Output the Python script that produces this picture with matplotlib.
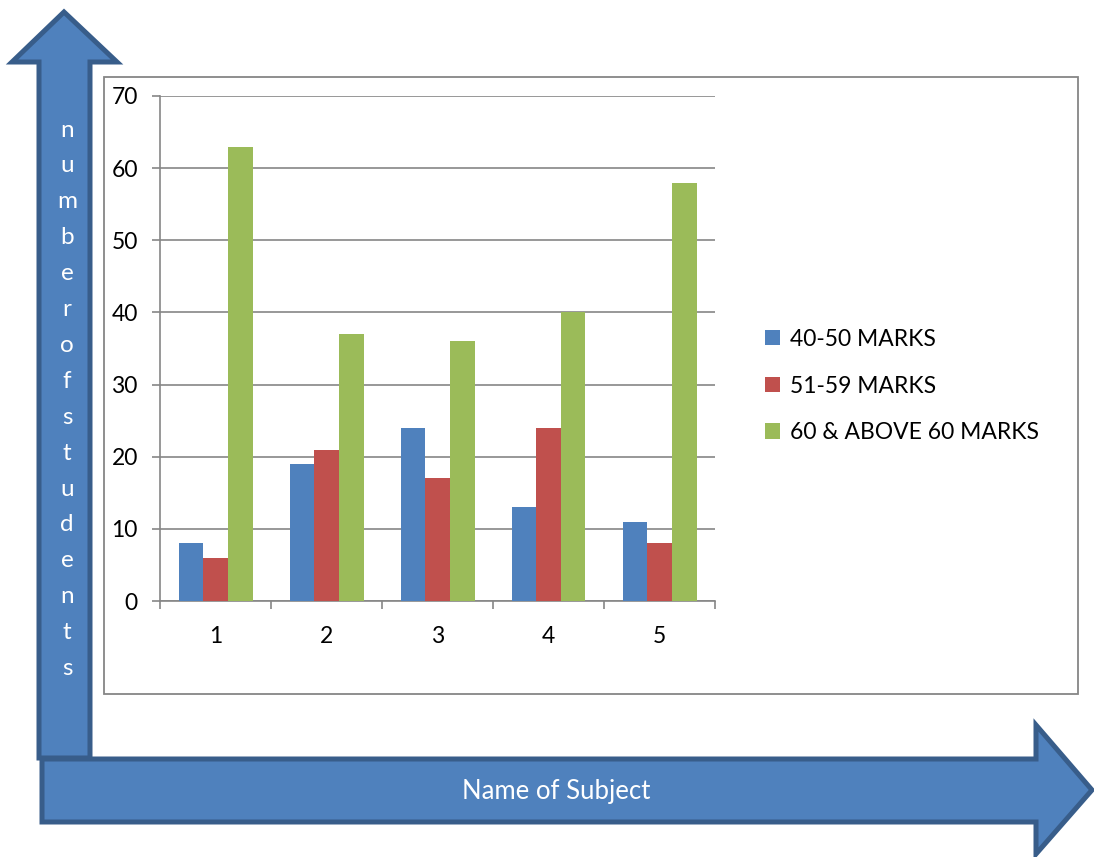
import matplotlib.pyplot as plt
from matplotlib.patches import Polygon, Rectangle
import numpy as np

plt.rcParams['font.family'] = ['Lato', 'DejaVu Sans']

# data
subjects = ['1', '2', '3', '4', '5']
series_names = ['40-50 MARKS', '51-59 MARKS', '60 & ABOVE 60 MARKS']
marks_40_50 = [8, 19, 24, 13, 11]
marks_51_59 = [6, 21, 17, 24, 8]
marks_60_up = [63, 37, 36, 40, 58]
colors = ['#4F81BD', '#C0504D', '#9BBB59']
y_ticks = [0, 10, 20, 30, 40, 50, 60, 70]

W, H = 1094, 857
fig = plt.figure(figsize=(W / 100, H / 100), dpi=100)

# background layer in pixel coordinates for arrows and chart box
bg = fig.add_axes([0, 0, 1, 1])
bg.set_xlim(0, W)
bg.set_ylim(H, 0)
bg.axis('off')

arrow_fill = '#4F81BD'
arrow_edge = '#385D8A'

# vertical arrow
up = Polygon([(39, 758), (39, 62), (12, 62), (64, 12), (117, 62), (90, 62), (90, 758)],
             closed=True, facecolor=arrow_fill, edgecolor=arrow_edge, lw=3.6, joinstyle='miter')
bg.add_patch(up)
# horizontal arrow
right = Polygon([(42, 759), (1036, 759), (1036, 725), (1092, 790), (1036, 854), (1036, 822), (42, 822)],
                closed=True, facecolor=arrow_fill, edgecolor=arrow_edge, lw=3.6, joinstyle='miter')
bg.add_patch(right)

letters = 'numberofstudents'
for i, ch in enumerate(letters):
    bg.text(67, 130 + i * 35.9, ch, color='white', fontsize=17.5, ha='center', va='center')
bg.text(556, 791, 'Name of Subject', color='white', fontsize=18.5, ha='center', va='center')

# chart box
bg.add_patch(Rectangle((104, 77), 974, 617, facecolor='white', edgecolor='#868686', lw=1.3))

# chart
ax = fig.add_axes([160 / W, (H - 601) / H, (715 - 160) / W, (601 - 96) / H])
ax.set_facecolor('none')
x = np.arange(len(subjects))
w = 1 / 4.5
for k, (vals, name) in enumerate(zip([marks_40_50, marks_51_59, marks_60_up], series_names)):
    ax.bar(x + (k - 1) * w, vals, width=w, color=colors[k], label=name, zorder=3)

ax.set_xlim(-0.5, len(subjects) - 0.5)
ax.set_ylim(0, 70)
ax.set_yticks(y_ticks)
ax.set_yticklabels([str(v) for v in y_ticks], fontsize=16.5)
ax.set_xticks(np.arange(-0.5, len(subjects), 1))
ax.set_xticklabels([])
ax.set_xticks(x, minor=True)
ax.set_xticklabels(subjects, minor=True, fontsize=16.5)
ax.tick_params(axis='x', which='minor', length=0, pad=18)
ax.tick_params(axis='x', which='major', length=6, color='#868686', width=1.2, direction='out')
ax.tick_params(axis='y', length=6, color='#868686', width=1.2, pad=10)
ax.grid(axis='y', color='#868686', lw=1.2, zorder=0)
for s in ['top', 'right']:
    ax.spines[s].set_visible(False)
for s in ['left', 'bottom']:
    ax.spines[s].set_color('#868686')
    ax.spines[s].set_linewidth(1.2)

ax.legend(loc='center left', bbox_to_anchor=(754 / W, (H - 386) / H), bbox_transform=fig.transFigure,
          frameon=False, fontsize=16.5, handlelength=0.65, handleheight=0.65, handletextpad=0.4,
          labelspacing=1.12, borderpad=0)

fig.savefig('out.png', dpi=100)
